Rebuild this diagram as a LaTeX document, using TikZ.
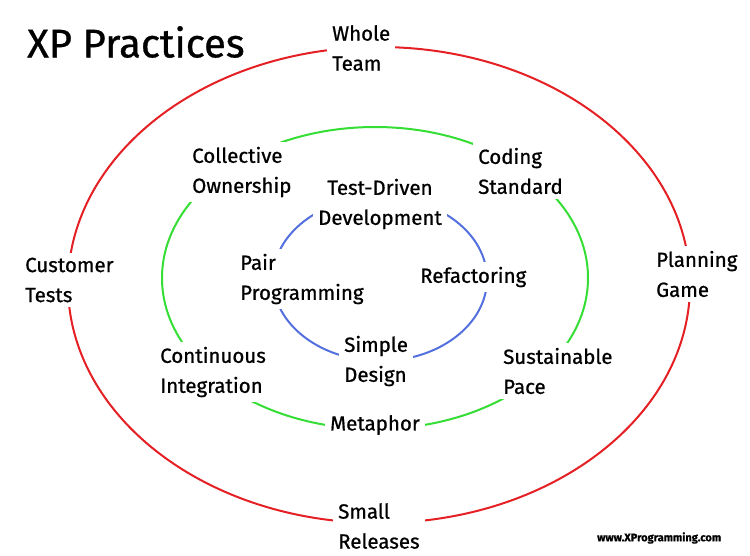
\documentclass[tikz,border=0pt]{standalone}
\usepackage{fontspec}
\setmainfont{Fira Sans}[FakeBold=0.8]
\definecolor{xpred}{RGB}{228,32,36}
\definecolor{xpgreen}{RGB}{52,222,52}
\definecolor{xpblue}{RGB}{84,112,222}
\begin{document}
\begin{tikzpicture}[x=1pt,y=-1pt,
    practice/.style={fill=white,inner sep=5pt,align=left,anchor=west,
      font=\fontsize{20.5}{30}\selectfont},
    ring/.style={line width=2pt}]
      \useasboundingbox (0,0) rectangle (750,555);

      \draw[ring,xpred] (379,285) ellipse [x radius=311,y radius=238];
      \draw[ring,xpgreen] (375,278) ellipse [x radius=213,y radius=151];
      \draw[ring,xpblue] (380,279) ellipse [x radius=107,y radius=82];

      \node[anchor=west,inner sep=0pt,font=\fontsize{40}{42}\selectfont] (title) at (27,42) {XP Practices};

      \node[practice] (team) at (327,48) {Whole\\Team};
      \node[practice] (tests) at (20,280) {Customer\\Tests};
      \node[practice] (game) at (651,274) {Planning\\Game};
      \node[practice] (releases) at (333,526) {Small\\Releases};

      \node[practice] (ownership) at (187,172) {Collective\\Ownership};
      \node[practice] (standard) at (473,171) {Coding\\Standard};
      \node[practice] (integration) at (155,372) {Continuous\\Integration};
      \node[practice] (pace) at (498,371) {Sustainable\\Pace};
      \node[practice,anchor=center] (metaphor) at (375,425) {Metaphor};

      \node[practice,anchor=center,align=center] (tdd) at (380,204) {Test-Driven\\Development};
      \node[practice] (pair) at (235,279) {Pair\\Programming};
      \node[practice] (refactoring) at (415,277) {Refactoring};
      \node[practice] (design) at (339,361) {Simple\\Design};

      \node[anchor=west,inner sep=0pt,font=\fontsize{11}{12}\selectfont\bfseries] (site) at (597,538) {www.XProgramming.com};
    \end{tikzpicture}
\end{document}
